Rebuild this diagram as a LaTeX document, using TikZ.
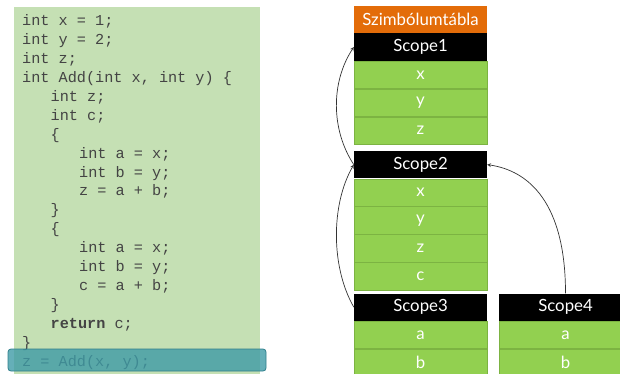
\documentclass[tikz,border=0pt]{standalone}
\usepackage{fontspec}
\setmainfont{Lato}
\setmonofont{Liberation Mono}
\usepackage{tikz}
\usetikzlibrary{positioning}
\definecolor{codebg}{HTML}{C5E0B4}
\definecolor{codetext}{HTML}{444444}
\definecolor{cellgreen}{HTML}{92D050}
\definecolor{cellline}{HTML}{7CB342}
\definecolor{tablehead}{HTML}{E36C09}
\definecolor{callbox}{HTML}{3E9BA6}
\definecolor{callline}{HTML}{2F7F8C}

\begin{document}
\begin{tikzpicture}[x=1pt,y=-1pt,
    node distance=0pt,
    codeline/.style={anchor=base west,inner sep=0pt,text=codetext,font=\ttfamily\fontsize{15.2}{15.2}\selectfont},
    cell/.style={minimum width=133pt,minimum height=27.3pt,inner sep=0pt,text=white,font=\fontsize{16.8}{16.8}\selectfont},
    headcell/.style={cell,fill=black},
    entry/.style={cell,fill=cellgreen,draw=cellline,line width=0.6pt},
    conn/.style={line width=0.7pt,draw=black!80,-stealth}]
    \clip (0,0) rectangle (620,374);
    % Code box
    \fill[codebg] (14,7) rectangle (260,380);
    \foreach \i/\ind/\txt in {
        1/0/{int x = 1;}, 2/0/{int y = 2;}, 3/0/{int z;},
        4/0/{int Add(int x, int y) \{},
        5/1/{int z;}, 6/1/{int c;}, 7/1/{\{},
        8/2/{int a = x;}, 9/2/{int b = y;}, 10/2/{z = a + b;},
        11/1/{\}}, 12/1/{\{},
        13/2/{int a = x;}, 14/2/{int b = y;}, 15/2/{c = a + b;},
        16/1/{\}}, 17/1/{\textbf{return} c;}, 18/0/{\}},
        19/0/{z = Add(x, y);}} {%
        \node[codeline] (l\i) at (22+28.5*\ind, 25.5+18.94*\i-18.94) {\txt};
    }
    % Call highlight
    \draw[rounded corners=3pt,fill=callbox,fill opacity=0.8,draw=callline,line width=0.8pt]
        (8,349) rectangle (266,371);
    % Symbol table
    \node[cell,fill=tablehead] (head) at (420.5,19.35) {Szimbólumtábla};
    \node[headcell,below=of head] (s1) {Scope1};
    \node[entry,below=of s1] (s1x) {x};
    \node[entry,below=of s1x] (s1y) {y};
    \node[entry,below=of s1y] (s1z) {z};
    \node[headcell] (s2) at (420.5,164.65) {Scope2};
    \node[entry,below=of s2] (s2x) {x};
    \node[entry,below=of s2x] (s2y) {y};
    \node[entry,below=of s2y] (s2z) {z};
    \node[entry,below=of s2z] (s2c) {c};
    \node[headcell] (s3) at (420.5,307.15) {Scope3};
    \node[entry,below=of s3] (s3a) {a};
    \node[entry,below=of s3a] (s3b) {b};
    \node[headcell] (s4) at (565.5,307.15) {Scope4};
    \node[entry,below=of s4] (s4a) {a};
    \node[entry,below=of s4a] (s4b) {b};
    % Parent links
    \draw[conn] (s2.west) .. controls +(-23,-35) and +(-23,35) .. (s1.west);
    \draw[conn] (s3.west) .. controls +(-23,-40) and +(-23,40) .. (s2.west);
    \draw[conn] (s4.north) .. controls +(0,-90) and +(42,6) .. (s2.east);
\end{tikzpicture}
\end{document}
